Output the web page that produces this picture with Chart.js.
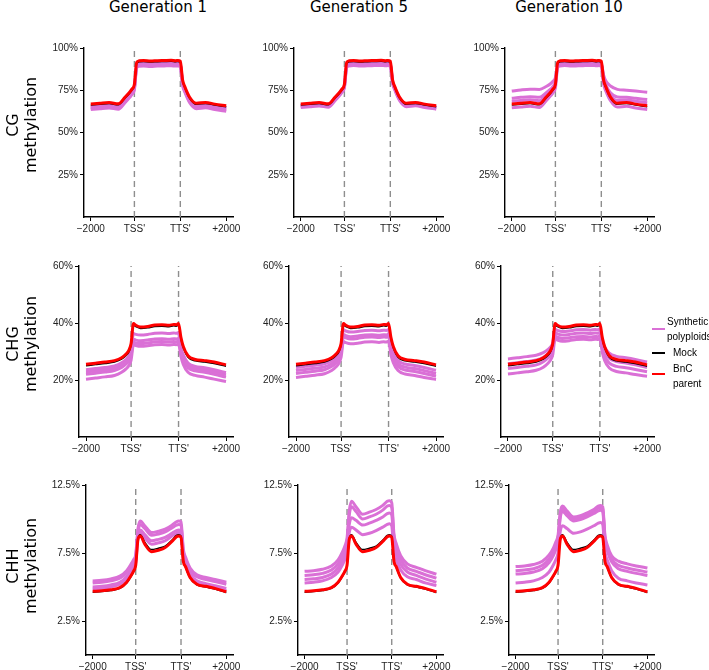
<!DOCTYPE html>
<html>
<head>
<meta charset="utf-8">
<script src="https://cdn.jsdelivr.net/npm/chart.js@4.4.0/dist/chart.umd.min.js"></script>
<style>
  body { margin: 0; background: #fff; }
  #wrap { position: relative; width: 709px; height: 670px; overflow: hidden; font-family: "DejaVu Sans", sans-serif; color: #000; }
  canvas { position: absolute; }
  .gen { position: absolute; top: 0; font-size: 15px; line-height: 15px; white-space: nowrap; transform: translateX(-50%); }
  .row { position: absolute; width: 140px; font-size: 16px; line-height: 18px; text-align: center; transform: translate(-50%, -50%) rotate(-90deg); }
  .leg { position: absolute; font-family: "Liberation Sans", Arial, sans-serif; font-size: 10px; line-height: 10px; white-space: nowrap; transform: translateY(-50%); }
  .key { position: absolute; left: 652px; width: 13px; }
</style>
</head>
<body>
<div id="wrap"></div>
<script>
// bins along the metagene: 1 = -2000, 20 = TSS', 40 = TTS', 60 = +2000
const xBins = [1, 5, 9, 13, 16, 18, 19, 20, 21, 22, 24, 27, 30, 33, 36, 38, 39, 40, 41, 42, 44, 47, 51, 55, 60];
const xTickBins = [1, 20, 40, 60];
const xTickLabels = ['\u22122000', "TSS'", "TTS'", '+2000'];
const boundaryBins = [20, 40];

const generations = ['Generation 1', 'Generation 5', 'Generation 10'];
const contexts = ['CG', 'CHG', 'CHH'];
const yMaxes = [100, 60, 12.5];
const yTickValues = [[25, 50, 75, 100], [20, 40, 60], [2.5, 7.5, 12.5]];

// CG methylation (%)
const cgParent = [66.8, 67.3, 67.7, 67.0, 71.0, 74.0, 75.8, 78.5, 91.5, 92.4, 92.6, 92.3, 92.5, 92.6, 92.7, 92.5, 92.6, 92.2, 81.0, 77.0, 71.0, 67.3, 67.8, 66.8, 65.8];
const cgMock = [66.2, 66.7, 67.1, 66.4, 70.4, 73.4, 75.2, 77.9, 90.9, 91.8, 92.0, 91.7, 91.9, 92.0, 92.1, 91.9, 92.0, 91.6, 80.4, 76.4, 70.4, 66.7, 67.2, 66.2, 65.2];
const cgGen1Synthetic = [
  [65.6, 66.1, 66.5, 65.8, 69.8, 72.8, 74.6, 77.3, 89.9, 90.8, 91.0, 90.7, 90.9, 91.0, 91.1, 90.9, 91.0, 90.6, 79.8, 75.8, 69.8, 66.1, 66.6, 65.6, 64.6],
  [65.0, 65.5, 65.9, 65.2, 69.2, 72.2, 74.0, 76.7, 89.4, 90.3, 90.5, 90.2, 90.4, 90.5, 90.6, 90.4, 90.5, 90.1, 79.2, 75.2, 69.2, 65.5, 66.0, 65.0, 64.0],
  [64.3, 64.8, 65.2, 64.5, 68.5, 71.5, 73.3, 76.0, 88.8, 89.7, 89.9, 89.6, 89.8, 89.9, 90.0, 89.8, 89.9, 89.5, 78.5, 74.5, 68.5, 64.8, 65.3, 64.3, 63.3],
  [63.6, 64.1, 64.5, 63.8, 67.8, 70.8, 72.6, 75.3, 88.3, 89.2, 89.4, 89.1, 89.3, 89.4, 89.5, 89.3, 89.4, 89.0, 77.8, 73.8, 67.8, 64.1, 64.6, 63.6, 62.6]
];
const cgGen5Synthetic = [
  [66.3, 66.8, 67.2, 66.5, 70.5, 73.5, 75.3, 78.0, 90.1, 91.0, 91.2, 90.9, 91.1, 91.2, 91.3, 91.1, 91.2, 90.8, 80.5, 76.5, 70.5, 66.8, 67.3, 66.3, 65.3],
  [65.8, 66.3, 66.7, 66.0, 70.0, 73.0, 74.8, 77.5, 89.5, 90.4, 90.6, 90.3, 90.5, 90.6, 90.7, 90.5, 90.6, 90.2, 80.0, 76.0, 70.0, 66.3, 66.8, 65.8, 64.8],
  [65.3, 65.8, 66.2, 65.5, 69.5, 72.5, 74.3, 77.0, 89.0, 89.9, 90.1, 89.8, 90.0, 90.1, 90.2, 90.0, 90.1, 89.7, 79.5, 75.5, 69.5, 65.8, 66.3, 65.3, 64.3],
  [64.8, 65.3, 65.7, 65.0, 69.0, 72.0, 73.8, 76.5, 88.5, 89.4, 89.6, 89.3, 89.5, 89.6, 89.7, 89.5, 89.6, 89.2, 79.0, 75.0, 69.0, 65.3, 65.8, 64.8, 63.8]
];
const cgGen10Synthetic = [
  [74.5, 75.2, 75.6, 75.5, 77.2, 79.0, 80.3, 82.5, 90.1, 91.0, 91.2, 90.9, 91.1, 91.2, 91.3, 91.1, 91.2, 90.8, 84.0, 80.5, 77.5, 75.5, 75.0, 74.5, 73.8],
  [70.2, 70.8, 71.2, 70.8, 73.5, 75.8, 77.3, 80.0, 89.5, 90.4, 90.6, 90.3, 90.5, 90.6, 90.7, 90.5, 90.6, 90.2, 82.0, 78.0, 73.5, 71.0, 70.8, 70.2, 69.5],
  [68.5, 69.0, 69.4, 68.8, 72.2, 74.8, 76.4, 79.0, 89.0, 89.9, 90.1, 89.8, 90.0, 90.1, 90.2, 90.0, 90.1, 89.7, 80.5, 76.5, 71.8, 69.0, 69.2, 68.5, 67.6],
  [64.6, 65.1, 65.5, 64.8, 68.8, 71.8, 73.6, 76.3, 88.5, 89.4, 89.6, 89.3, 89.5, 89.6, 89.7, 89.5, 89.6, 89.2, 78.5, 74.5, 68.8, 65.1, 65.5, 64.5, 63.6]
];

// CHG methylation (%)
const chgParent = [25.5, 25.9, 26.3, 26.8, 27.8, 29.2, 30.3, 32.8, 39.8, 39.2, 38.6, 38.8, 39.3, 39.4, 39.2, 39.5, 39.4, 39.8, 35.0, 31.8, 28.5, 27.2, 26.8, 26.3, 25.3];
const chgMock = [25.0, 25.4, 25.8, 26.3, 27.3, 28.7, 29.8, 32.3, 39.3, 38.7, 38.1, 38.3, 38.8, 38.9, 38.7, 39.0, 38.9, 39.3, 34.5, 31.3, 28.0, 26.7, 26.3, 25.8, 24.8];
const chgGen1Synthetic = [
  [23.6, 24.0, 24.4, 24.9, 26.0, 27.3, 28.3, 30.2, 36.3, 36.0, 35.8, 36.0, 36.4, 36.5, 36.3, 36.5, 36.4, 36.6, 31.5, 28.8, 26.0, 24.8, 24.3, 23.6, 22.6],
  [22.8, 23.2, 23.6, 24.1, 25.2, 26.5, 27.5, 29.4, 34.3, 34.0, 33.8, 34.0, 34.4, 34.5, 34.3, 34.5, 34.4, 34.6, 30.5, 27.8, 25.1, 24.0, 23.5, 22.8, 21.8],
  [22.0, 22.4, 22.8, 23.3, 24.4, 25.7, 26.7, 28.6, 33.3, 33.0, 32.8, 33.0, 33.4, 33.5, 33.3, 33.5, 33.4, 33.6, 29.7, 27.0, 24.3, 23.2, 22.7, 22.0, 21.0],
  [20.3, 20.7, 21.1, 21.6, 22.7, 24.0, 25.0, 27.0, 32.4, 32.1, 31.8, 32.0, 32.4, 32.5, 32.3, 32.5, 32.4, 32.6, 28.3, 25.5, 22.7, 21.6, 21.0, 20.3, 19.5]
];
const chgGen5Synthetic = [
  [24.4, 24.8, 25.2, 25.7, 26.8, 28.2, 29.3, 31.5, 37.6, 37.2, 36.8, 37.0, 37.4, 37.5, 37.3, 37.5, 37.4, 37.7, 32.5, 29.6, 26.8, 25.6, 25.1, 24.4, 23.4],
  [23.3, 23.7, 24.1, 24.6, 25.7, 27.1, 28.2, 30.4, 36.0, 35.6, 35.2, 35.4, 35.8, 35.9, 35.7, 35.9, 35.8, 36.1, 31.3, 28.5, 25.7, 24.5, 24.0, 23.3, 22.3],
  [22.3, 22.7, 23.1, 23.6, 24.7, 26.1, 27.2, 29.4, 35.2, 34.8, 34.4, 34.6, 35.0, 35.1, 34.9, 35.1, 35.0, 35.3, 30.3, 27.5, 24.7, 23.5, 23.0, 22.3, 21.3],
  [20.9, 21.3, 21.7, 22.2, 23.3, 24.7, 25.8, 28.0, 33.5, 33.1, 32.7, 32.9, 33.3, 33.4, 33.2, 33.4, 33.3, 33.6, 28.9, 26.1, 23.3, 22.1, 21.6, 20.9, 20.2]
];
const chgGen10Synthetic = [
  [27.4, 27.8, 28.2, 28.7, 29.6, 30.7, 31.5, 33.0, 37.8, 37.4, 37.0, 37.2, 37.6, 37.7, 37.5, 37.7, 37.6, 37.9, 34.0, 31.5, 29.4, 28.3, 27.8, 27.2, 26.3],
  [25.7, 26.1, 26.5, 27.0, 28.0, 29.2, 30.1, 31.8, 36.6, 36.2, 35.8, 36.0, 36.4, 36.5, 36.3, 36.5, 36.4, 36.7, 32.5, 29.9, 27.6, 26.5, 26.0, 25.3, 24.4],
  [24.0, 24.4, 24.8, 25.3, 26.4, 27.7, 28.7, 30.6, 35.4, 35.0, 34.6, 34.8, 35.2, 35.3, 35.1, 35.3, 35.2, 35.5, 31.0, 28.3, 25.9, 24.8, 24.3, 23.7, 22.9],
  [22.1, 22.5, 22.9, 23.4, 24.5, 25.9, 26.9, 28.9, 34.4, 34.0, 33.6, 33.8, 34.2, 34.3, 34.1, 34.3, 34.2, 34.5, 29.8, 26.9, 24.2, 23.0, 22.5, 21.9, 21.3]
];

// CHH methylation (%)
const chhParent = [4.68, 4.72, 4.8, 4.95, 5.35, 5.85, 6.15, 6.6, 8.5, 8.75, 8.15, 7.6, 7.7, 7.9, 8.35, 8.7, 8.75, 8.65, 6.9, 6.5, 5.7, 5.2, 5.05, 4.9, 4.65];
const chhMock = [4.62, 4.66, 4.74, 4.9, 5.3, 5.8, 6.1, 6.55, 8.55, 8.85, 8.3, 7.75, 7.85, 8.0, 8.45, 8.8, 8.85, 8.75, 6.95, 6.45, 5.65, 5.15, 5.0, 4.85, 4.6];
const chhGen1Synthetic = [
  [5.45, 5.5, 5.6, 5.8, 6.2, 6.7, 7.0, 7.4, 9.3, 9.85, 9.5, 9.0, 9.1, 9.25, 9.55, 9.8, 9.85, 9.8, 7.8, 7.2, 6.4, 5.9, 5.7, 5.55, 5.35],
  [5.3, 5.35, 5.45, 5.65, 6.05, 6.55, 6.85, 7.25, 9.05, 9.6, 9.3, 8.8, 8.9, 9.05, 9.35, 9.55, 9.6, 9.55, 7.6, 7.0, 6.2, 5.75, 5.55, 5.4, 5.2],
  [5.0, 5.05, 5.15, 5.35, 5.75, 6.25, 6.55, 6.95, 8.8, 9.2, 8.85, 8.4, 8.5, 8.65, 8.95, 9.15, 9.2, 9.15, 7.3, 6.75, 5.95, 5.45, 5.25, 5.1, 4.9],
  [4.85, 4.9, 5.0, 5.2, 5.6, 6.1, 6.4, 6.8, 8.65, 9.0, 8.6, 8.15, 8.25, 8.4, 8.75, 8.95, 9.0, 8.95, 7.15, 6.6, 5.8, 5.3, 5.1, 4.95, 4.75]
];
const chhGen5Synthetic = [
  [6.15, 6.2, 6.3, 6.55, 7.0, 7.6, 8.0, 8.6, 10.6, 11.3, 10.9, 10.35, 10.5, 10.7, 11.0, 11.3, 11.35, 11.2, 8.9, 8.2, 7.3, 6.7, 6.45, 6.2, 5.95],
  [5.85, 5.9, 6.0, 6.25, 6.7, 7.3, 7.7, 8.3, 10.3, 10.9, 10.55, 10.0, 10.15, 10.35, 10.65, 10.95, 11.0, 10.85, 8.6, 7.9, 7.0, 6.4, 6.15, 5.9, 5.65],
  [5.55, 5.6, 5.7, 5.95, 6.4, 7.0, 7.4, 7.95, 9.6, 10.1, 9.9, 9.55, 9.7, 9.9, 10.15, 10.4, 10.45, 10.3, 8.2, 7.5, 6.65, 6.1, 5.85, 5.6, 5.35],
  [5.3, 5.35, 5.45, 5.7, 6.1, 6.65, 7.0, 7.5, 9.0, 9.4, 9.2, 8.85, 8.95, 9.15, 9.4, 9.6, 9.65, 9.5, 7.6, 7.0, 6.25, 5.75, 5.55, 5.3, 5.1]
];
const chhGen10Synthetic = [
  [6.5, 6.55, 6.65, 6.9, 7.35, 7.9, 8.3, 8.8, 10.5, 10.95, 10.6, 10.15, 10.25, 10.45, 10.7, 10.95, 11.0, 10.9, 8.8, 8.1, 7.3, 6.9, 6.7, 6.55, 6.4],
  [6.2, 6.25, 6.35, 6.6, 7.05, 7.6, 8.0, 8.55, 10.3, 10.75, 10.45, 10.0, 10.1, 10.3, 10.55, 10.8, 10.85, 10.75, 8.6, 7.9, 7.05, 6.6, 6.4, 6.25, 6.1],
  [5.95, 6.0, 6.1, 6.35, 6.8, 7.35, 7.75, 8.3, 10.1, 10.55, 10.25, 9.85, 9.95, 10.15, 10.4, 10.6, 10.65, 10.55, 8.4, 7.7, 6.85, 6.35, 6.15, 6.0, 5.85],
  [5.3, 5.35, 5.45, 5.7, 6.1, 6.65, 7.0, 7.5, 9.1, 9.5, 9.3, 8.95, 9.05, 9.25, 9.5, 9.7, 9.75, 9.6, 7.6, 7.0, 6.2, 5.65, 5.45, 5.3, 5.15]
];

const parents = [cgParent, chgParent, chhParent];
const mocks = [cgMock, chgMock, chhMock];
const synthetic = [
  [cgGen1Synthetic, cgGen5Synthetic, cgGen10Synthetic],
  [chgGen1Synthetic, chgGen5Synthetic, chgGen10Synthetic],
  [chhGen1Synthetic, chhGen5Synthetic, chhGen10Synthetic]
];

// layout (page pixels) of each panel's plotting area
const rowTops = [48, 266, 485];
const rowBottoms = [217, 437, 655];
const colLefts = [[84, 294, 505], [79, 289, 501], [86, 298, 509]];
const colRights = [233, 443, 654];
const titleCenters = [158, 359, 569];
const rowLabelCenters = [125, 344, 566];

const VIOLET = '#da70d6', RED = '#ff0000';
const YW = 50, PT = 8, PR = 12, XH = 22;
const xPad = (xBins[xBins.length - 1] - xBins[0]) * 0.05;
const wrap = document.getElementById('wrap');

function pts(values) {
  return xBins.map((b, i) => ({ x: b, y: values[i] }));
}

function panel(r, c) {
  const left = colLefts[r][c], right = colRights[c];
  const top = rowTops[r], bottom = rowBottoms[r];
  const cv = document.createElement('canvas');
  cv.width = YW + (right - left) + PR;
  cv.height = PT + (bottom - top) + XH;
  cv.style.left = (left - YW) + 'px';
  cv.style.top = (top - PT) + 'px';
  wrap.appendChild(cv);

  const yMax = yMaxes[r];
  const datasets = [
    { data: pts(parents[r]), borderColor: RED, borderWidth: 3, order: 0 },
    { data: pts(mocks[r]), borderColor: '#000', borderWidth: 1.5, order: 1 }
  ];
  synthetic[r][c].forEach(s => {
    datasets.push({ data: pts(s), borderColor: VIOLET, borderWidth: 3, order: 2 });
  });
  boundaryBins.forEach(b => {
    datasets.push({
      data: [{ x: b, y: 0 }, { x: b, y: yMax }],
      borderColor: '#8e8e8e', borderWidth: 1.4, borderDash: [6, 4], order: 3, cubicInterpolationMode: 'default'
    });
  });

  const tickFont = { family: 'Liberation Sans', size: 10 };
  new Chart(cv, {
    type: 'line',
    data: { datasets: datasets },
    options: {
      responsive: false,
      animation: false,
      events: [],
      layout: { padding: { left: 0, top: PT, right: PR, bottom: 0 } },
      plugins: { legend: { display: false }, tooltip: { enabled: false }, title: { display: false } },
      elements: {
        point: { radius: 0 },
        line: { cubicInterpolationMode: 'monotone', borderJoinStyle: 'round', fill: false }
      },
      scales: {
        x: {
          type: 'linear',
          min: xBins[0] - xPad,
          max: xBins[xBins.length - 1] + xPad,
          afterFit: s => { s.height = XH; },
          afterBuildTicks: s => { s.ticks = xTickBins.map(v => ({ value: v })); },
          ticks: { autoSkip: false, maxRotation: 0, padding: 2, color: '#222', font: tickFont,
                   callback: (v, i) => xTickLabels[i] },
          grid: { drawOnChartArea: false, drawTicks: true, tickLength: 4, color: '#000', lineWidth: 1 },
          border: { display: true, color: '#000', width: 1.4 }
        },
        y: {
          min: 0,
          max: yMax,
          afterFit: s => { s.width = YW; },
          afterBuildTicks: s => { s.ticks = yTickValues[r].map(v => ({ value: v })); },
          ticks: { autoSkip: false, padding: 2, color: '#222', font: tickFont,
                   callback: v => v + '%' },
          grid: { drawOnChartArea: false, drawTicks: true, tickLength: 4, color: '#000', lineWidth: 1 },
          border: { display: true, color: '#000', width: 1.4 }
        }
      }
    }
  });
}

for (let r = 0; r < 3; r++) {
  for (let c = 0; c < 3; c++) panel(r, c);
}

generations.forEach((g, c) => {
  const d = document.createElement('div');
  d.className = 'gen';
  d.style.left = titleCenters[c] + 'px';
  d.textContent = g;
  wrap.appendChild(d);
});

contexts.forEach((ctx, r) => {
  const d = document.createElement('div');
  d.className = 'row';
  d.style.left = '22px';
  d.style.top = rowLabelCenters[r] + 'px';
  d.innerHTML = ctx + '<br>methylation';
  wrap.appendChild(d);
});

// legend
const legendKeys = [
  { color: VIOLET, y: 329, h: 2 },
  { color: '#000', y: 353, h: 2 },
  { color: RED, y: 374, h: 2 }
];
const legendTexts = [
  { text: 'Synthetic', x: 667, y: 322 },
  { text: 'polyploids', x: 667, y: 337 },
  { text: 'Mock', x: 673, y: 353 },
  { text: 'BnC', x: 673, y: 369 },
  { text: 'parent', x: 673, y: 384 }
];
legendKeys.forEach(k => {
  const d = document.createElement('div');
  d.className = 'key';
  d.style.top = (k.y - k.h / 2) + 'px';
  d.style.height = k.h + 'px';
  d.style.background = k.color;
  wrap.appendChild(d);
});
legendTexts.forEach(t => {
  const d = document.createElement('div');
  d.className = 'leg';
  d.style.left = t.x + 'px';
  d.style.top = t.y + 'px';
  d.textContent = t.text;
  wrap.appendChild(d);
});
</script>
</body>
</html>
